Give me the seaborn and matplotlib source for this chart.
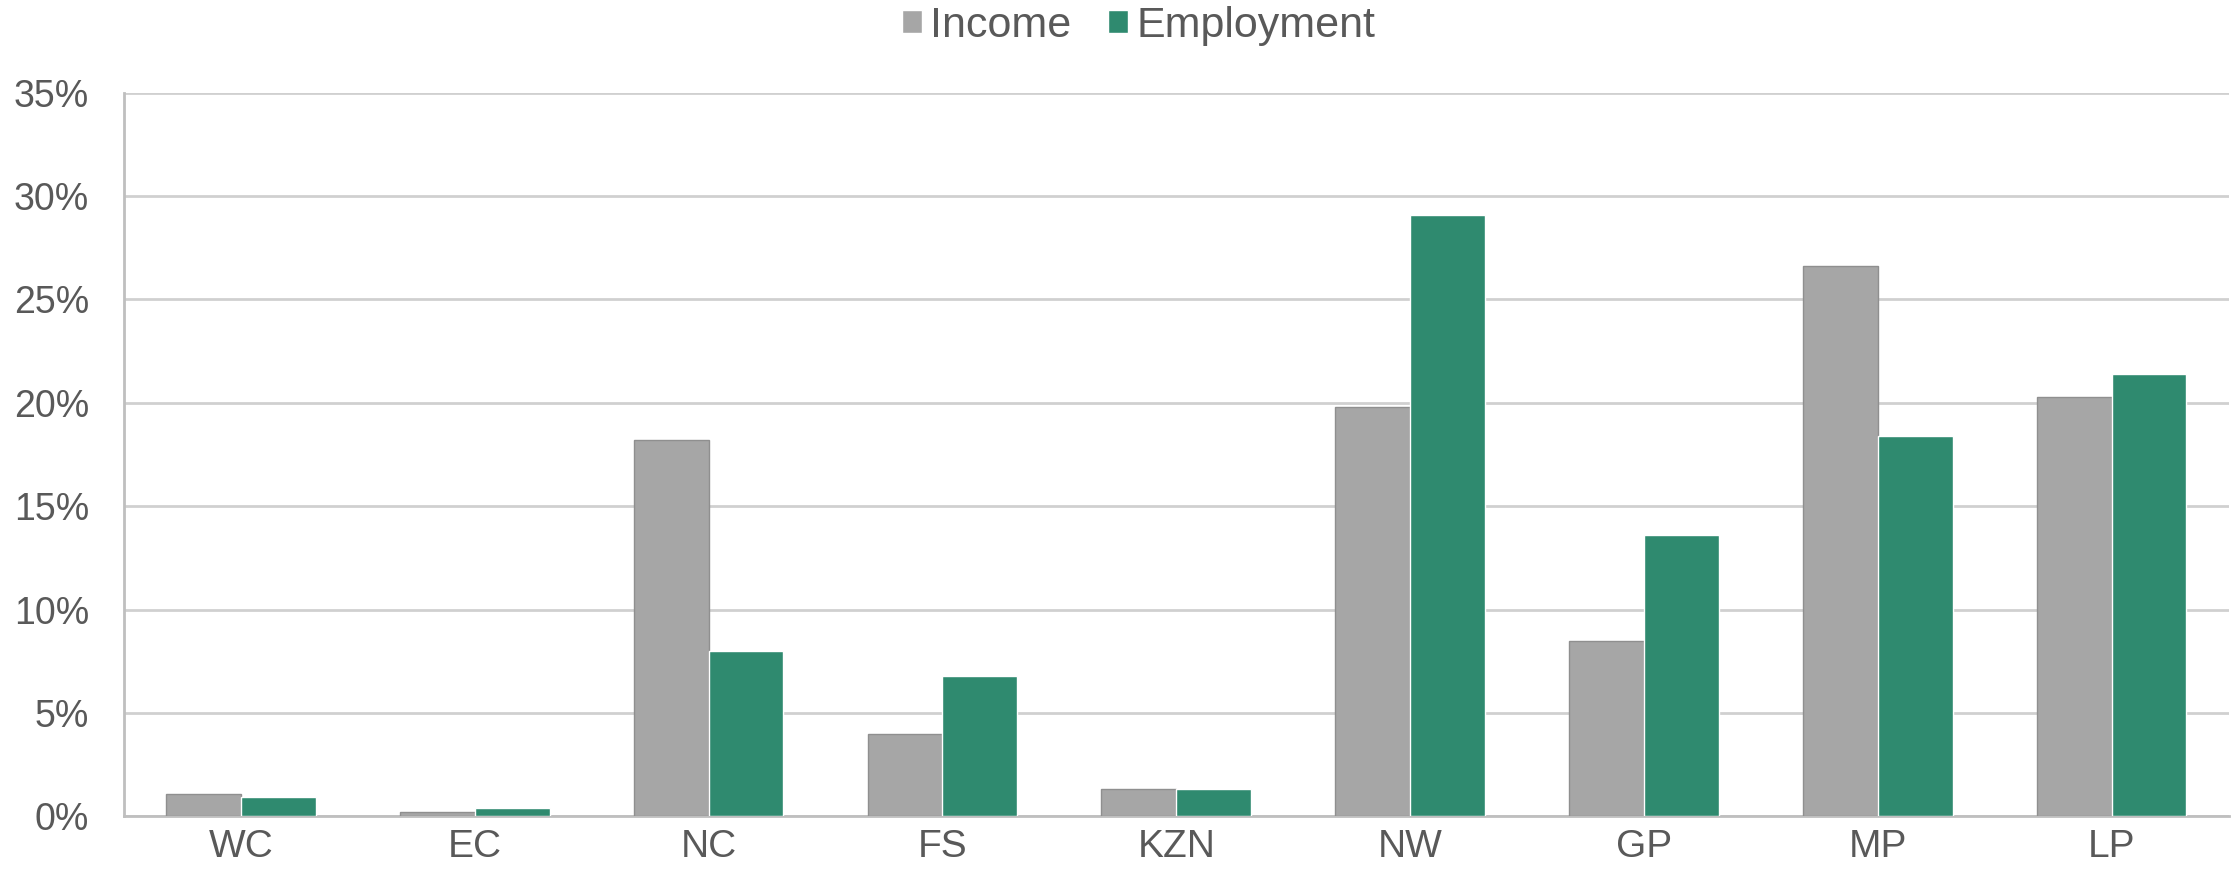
import matplotlib
matplotlib.use('Agg')
import matplotlib.pyplot as plt
import matplotlib.ticker as mticker
import pandas as pd
import seaborn as sns

# provinces and the two series (percent)
regions = ['WC', 'EC', 'NC', 'FS', 'KZN', 'NW', 'GP', 'MP', 'LP']
income = [1.1, 0.2, 18.2, 4.0, 1.3, 19.8, 8.5, 26.6, 20.3]
employment = [0.95, 0.4, 8.0, 6.8, 1.3, 29.1, 13.6, 18.4, 21.4]
series = ['Income', 'Employment']
colours = ['#A6A6A6', '#2F8A6F']

df = pd.DataFrame({
    'region': regions * 2,
    'value': income + employment,
    'series': ['Income'] * len(regions) + ['Employment'] * len(regions),
})

sns.set_style('white')
plt.rcParams['font.family'] = ['Liberation Sans', 'DejaVu Sans']
text_col = '#595959'

fig = plt.figure(figsize=(22.33, 8.74), dpi=100)
ax = fig.add_axes([0.0555, 0.066, 0.9425, 0.828])

sns.barplot(data=df, x='region', y='value', hue='series', hue_order=series,
            palette=colours, width=0.64, gap=0, saturation=1, ax=ax, zorder=3)

# thin edge on grey bars like the original
for bar in ax.containers[0]:
    bar.set_edgecolor('#8F8F8F')
    bar.set_linewidth(1)

ax.set_ylim(0, 35)
ax.set_xlim(-0.5, len(regions) - 0.5)
ax.yaxis.set_major_locator(mticker.MultipleLocator(5))
ax.yaxis.set_major_formatter(mticker.FuncFormatter(lambda v, p: f'{v:.0f}%'))
ax.grid(axis='y', color='#D0D0D0', linewidth=2, zorder=0)
ax.set_axisbelow(True)

for side in ['top', 'right']:
    ax.spines[side].set_visible(False)
ax.spines['left'].set_color('#BFBFBF')
ax.spines['left'].set_linewidth(2)
ax.spines['bottom'].set_color('#BFBFBF')
ax.spines['bottom'].set_linewidth(2)

ax.tick_params(axis='y', length=0, pad=25, labelsize=27, labelcolor=text_col)
ax.tick_params(axis='x', length=0, pad=9, labelsize=28, labelcolor=text_col)
ax.set_xlabel('')
ax.set_ylabel('')

handles, labels = ax.get_legend_handles_labels()
ax.get_legend().remove()
fig.legend(handles, labels, loc='center', bbox_to_anchor=(0.51, 1 - 26 / 874), ncol=2,
           frameon=False, fontsize=31, labelcolor=text_col, handlelength=0.45,
           handleheight=0.45, handletextpad=0.2, columnspacing=0.85)

fig.savefig('out.png', dpi=100)
